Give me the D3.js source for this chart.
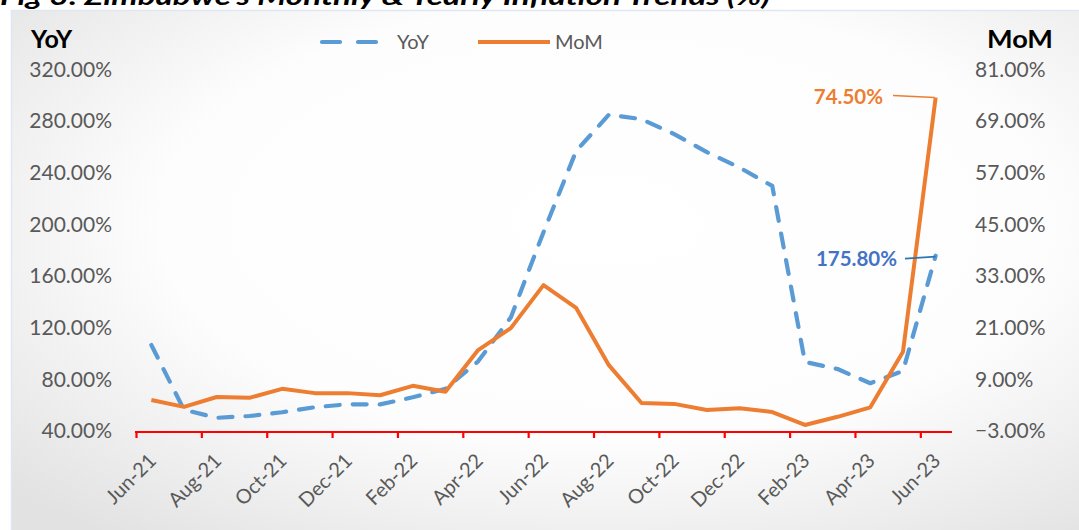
<!DOCTYPE html>
<html>
<head>
<meta charset="utf-8">
<script src="https://cdn.jsdelivr.net/npm/d3@7"></script>
<style>
  html, body { margin: 0; padding: 0; background: #ffffff; }
  svg { display: block; }
  text { font-family: Lato, "Open Sans", sans-serif; }
</style>
</head>
<body>
<svg id="chart" width="1079" height="530"></svg>
<script>
// ---------- data ----------
const months = ["Jun-21","Jul-21","Aug-21","Sep-21","Oct-21","Nov-21","Dec-21",
  "Jan-22","Feb-22","Mar-22","Apr-22","May-22","Jun-22","Jul-22","Aug-22","Sep-22",
  "Oct-22","Nov-22","Dec-22","Jan-23","Feb-23","Mar-23","Apr-23","May-23","Jun-23"];
const yoyValues = [106.6, 56.4, 50.2, 51.6, 54.5, 58.4, 60.7, 60.6, 66.1, 72.7, 94.0, 128.0,
  194.0, 256.9, 285.0, 281.5, 270.0, 256.0, 244.0, 229.8, 93.5, 88.0, 77.0, 86.5, 175.8];
const momValues = [4.2, 2.6, 4.9, 4.7, 6.8, 5.8, 5.8, 5.3, 7.5, 6.1, 15.8, 20.9,
  30.9, 25.6, 12.3, 3.5, 3.3, 1.9, 2.3, 1.4, -1.6, 0.3, 2.5, 15.4, 74.5];
const leftTicks = [40, 80, 120, 160, 200, 240, 280, 320];
const rightTicks = [-3, 9, 21, 33, 45, 57, 69, 81];
const xTickLabels = ["Jun-21","Aug-21","Oct-21","Dec-21","Feb-22","Apr-22","Jun-22",
  "Aug-22","Oct-22","Dec-22","Feb-23","Apr-23","Jun-23"];
const seriesNames = ["YoY", "MoM"];
const titleText = "Fig 3: Zimbabwe's Monthly & Yearly Inflation Trends (%)";

// ---------- style ----------
const blue = "#5B9BD5", orange = "#ED7D31", labelBlue = "#4472C4", grey = "#595959";

const svg = d3.select("#chart");
const defs = svg.append("defs");
const grad = defs.append("radialGradient").attr("id", "bg")
  .attr("cx", "55%").attr("cy", "40%").attr("r", "75%").attr("fx", "55%").attr("fy", "40%");
grad.append("stop").attr("offset", "0%").attr("stop-color", "#ffffff");
grad.append("stop").attr("offset", "55%").attr("stop-color", "#fdfdfd");
grad.append("stop").attr("offset", "100%").attr("stop-color", "#e2e2e2");

// title (cut off at top, as in the source image)
svg.append("text").attr("x", 0).attr("y", 5)
  .attr("font-size", 24).attr("font-weight", "bold").attr("font-style", "italic")
  .attr("fill", "#000").attr("textLength", 770).attr("lengthAdjust", "spacingAndGlyphs")
  .text(titleText);

// chart area background
svg.append("rect").attr("x", 11.5).attr("y", 10.5).attr("width", 1080).attr("height", 530)
  .attr("fill", "url(#bg)").attr("stroke", "#dde8f3").attr("stroke-width", 1.5);

// ---------- scales ----------
const x = d3.scaleBand().domain(months).range([135, 952]).padding(0);
const yL = d3.scaleLinear().domain([40, 320]).range([431, 69.5]);
const yR = d3.scaleLinear().domain([-3, 81]).range([431, 69.5]);
const cx = m => x(m) + x.bandwidth() / 2;

// left axis labels
const leftAxis = d3.axisLeft(yL).tickValues(leftTicks).tickSize(0).tickPadding(0)
  .tickFormat(d => d3.format(".2f")(d) + "%");
const gL = svg.append("g").attr("transform", "translate(112,0)").call(leftAxis);
gL.select(".domain").remove();
gL.selectAll("text").attr("font-size", 21).attr("fill", grey).attr("font-family", "Lato, sans-serif");

// right axis labels
const rightAxis = d3.axisRight(yR).tickValues(rightTicks).tickSize(0).tickPadding(0)
  .tickFormat(d => d3.format(".2f")(d) + "%");
const gR = svg.append("g").attr("transform", "translate(975,0)").call(rightAxis);
gR.select(".domain").remove();
gR.selectAll("text").attr("font-size", 21).attr("fill", grey).attr("font-family", "Lato, sans-serif");

// axis titles
svg.append("text").attr("x", 31).attr("y", 48).attr("font-size", 25).attr("font-weight", "bold")
  .attr("fill", "#000").text("YoY");
svg.append("text").attr("x", 987).attr("y", 48).attr("font-size", 25).attr("font-weight", "bold")
  .attr("fill", "#000").attr("textLength", 66).attr("lengthAdjust", "spacingAndGlyphs").text("MoM");

// x axis (red line with ticks every 2 categories at band edges)
const xAxisY = 432;
const tickMonths = months.filter((m, i) => i % 2 === 0);
const xAxis = d3.axisBottom(x).tickValues(tickMonths).tickSize(6).tickFormat("");
const gX = svg.append("g").attr("transform", `translate(0,${xAxisY})`).call(xAxis);
gX.select(".domain").attr("stroke", "#ff0000").attr("stroke-width", 2.2).attr("d", "M135,0H952");
gX.selectAll(".tick").attr("transform", d => `translate(${x(d) + 1.5},0)`);
gX.selectAll(".tick line").attr("stroke", "#ff0000").attr("stroke-width", 2.2);

// x labels rotated
svg.append("g").selectAll("text").data(xTickLabels).join("text")
  .attr("transform", d => `translate(${cx(d) + 6},${462}) rotate(-45)`)
  .attr("text-anchor", "end").attr("font-size", 20).attr("fill", grey)
  .text(d => d);

// ---------- lines ----------
const lineYoY = d3.line().x((d, i) => cx(months[i])).y(d => yL(d));
const lineMoM = d3.line().x((d, i) => cx(months[i])).y(d => yR(d));

svg.append("path").datum(yoyValues).attr("d", lineYoY)
  .attr("fill", "none").attr("stroke", blue).attr("stroke-width", 4.2)
  .attr("stroke-dasharray", "14,13").attr("stroke-linecap", "round").attr("stroke-linejoin", "round");

svg.append("path").datum(momValues).attr("d", lineMoM)
  .attr("fill", "none").attr("stroke", orange).attr("stroke-width", 4)
  .attr("stroke-linejoin", "round");

// ---------- data labels ----------
const last = months.length - 1;
const pMoM = [cx(months[last]), yR(momValues[last])];
const pYoY = [cx(months[last]), yL(yoyValues[last])];

svg.append("path").attr("d", `M893,${pMoM[1] - 2}L${pMoM[0] - 1},${pMoM[1]}`)
  .attr("stroke", orange).attr("stroke-width", 1.5).attr("fill", "none");
svg.append("text").attr("x", 883).attr("y", pMoM[1] + 7).attr("text-anchor", "end")
  .attr("font-size", 20.5).attr("font-weight", "bold").attr("fill", orange)
  .text(d3.format(".2f")(momValues[last]) + "%");

svg.append("path").attr("d", `M905,${pYoY[1] + 3}L${pYoY[0]},${pYoY[1] + 1}`)
  .attr("stroke", "#2E75B6").attr("stroke-width", 1.8).attr("fill", "none");
svg.append("text").attr("x", 897).attr("y", pYoY[1] + 10).attr("text-anchor", "end")
  .attr("font-size", 20.5).attr("font-weight", "bold").attr("fill", labelBlue)
  .text(d3.format(".2f")(yoyValues[last]) + "%");

// ---------- legend ----------
const lg = svg.append("g");
lg.append("line").attr("x1", 322).attr("x2", 376).attr("y1", 42).attr("y2", 42)
  .attr("stroke", blue).attr("stroke-width", 4.2).attr("stroke-dasharray", "18,18")
  .attr("stroke-linecap", "round");
lg.append("text").attr("x", 397).attr("y", 49).attr("font-size", 20).attr("fill", grey).text(seriesNames[0]);
lg.append("line").attr("x1", 478).attr("x2", 550).attr("y1", 42).attr("y2", 42)
  .attr("stroke", orange).attr("stroke-width", 4.2);
lg.append("text").attr("x", 555).attr("y", 49).attr("font-size", 20).attr("fill", grey).text(seriesNames[1]);
</script>
</body>
</html>
